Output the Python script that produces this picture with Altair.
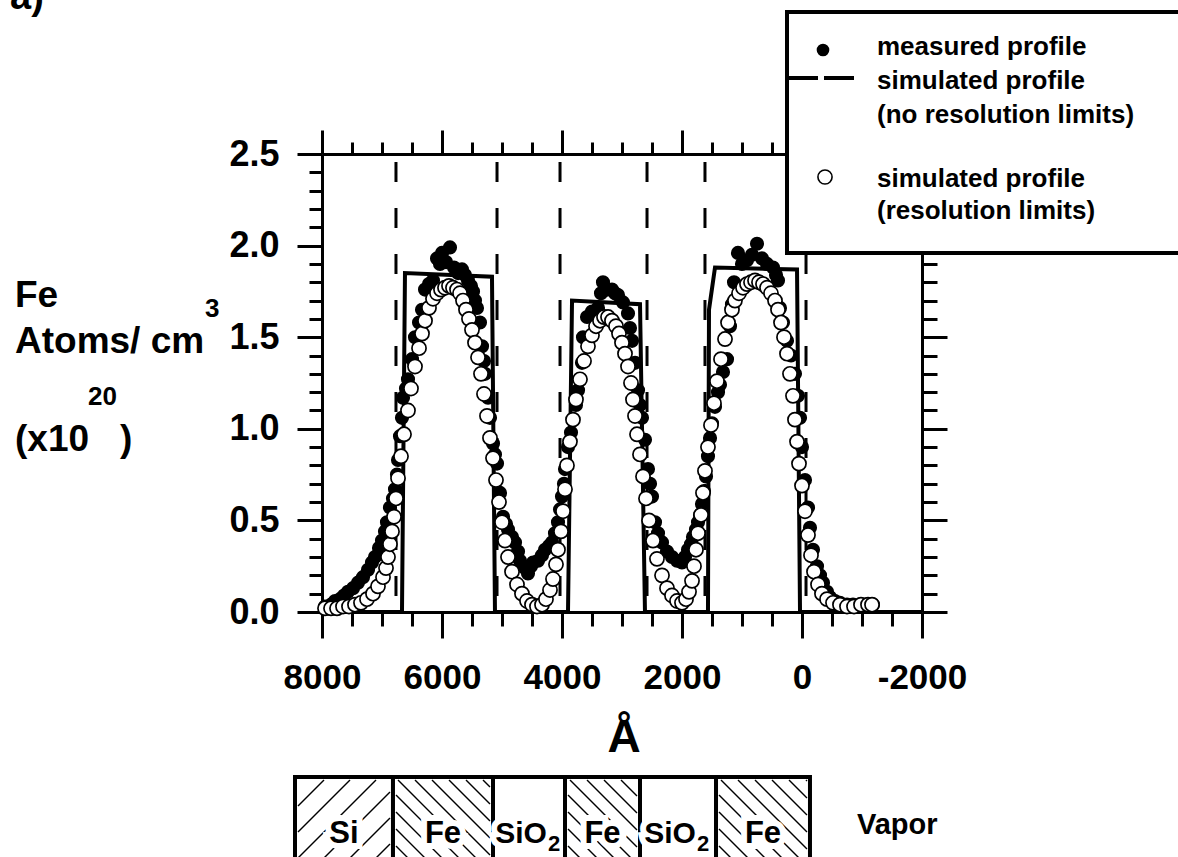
import altair as alt
import pandas as pd

FONT = "Liberation Sans, Arial, sans-serif"

# ---------------- data ----------------
meas_x = [7950, 7850, 7783, 7700, 7633, 7567, 7483, 7400, 7317, 7233, 7167, 7117, 7050, 7000, 6950,
          6917, 6867, 6817, 6783, 6750, 6733, 6700, 6667, 6650, 6600, 6567, 6500, 6450, 6383, 6333,
          6283, 6217, 6150, 6083, 6033, 6000, 5933, 5867, 5800, 5733, 5667, 5617, 5567, 5517, 5483,
          5450, 5417, 5367, 5333, 5300, 5283, 5233, 5200, 5150, 5117, 5083, 5033, 4983, 4933, 4900,
          4833, 4783, 4733, 4700, 4617, 4567, 4517, 4483, 4400, 4333, 4283, 4217, 4167, 4117, 4067,
          4033, 4000, 3967, 3950, 3900, 3850, 3817, 3767, 3733, 3667, 3650, 3583, 3500, 3400, 3350,
          3317, 3250, 3167, 3117, 3067, 2983, 2900, 2867, 2833, 2783, 2733, 2700, 2667, 2617, 2567,
          2533, 2500, 2450, 2400, 2333, 2250, 2167, 2083, 2000, 1950, 1900, 1850, 1817, 1767, 1733,
          1700, 1667, 1633, 1600, 1567, 1533, 1500, 1450, 1400, 1367, 1317, 1250, 1200, 1167, 1133,
          1067, 1000, 917, 833, 750, 667, 583, 483, 433, 400, 367, 317, 250, 183, 117,
          67, 33, 0, -50, -100, -133, -183, -250, -300, -350, -417, -467, -550, -633, -750,
          -850, -967, -1083, -1183]
meas_y = [0.03, 0.04, 0.06, 0.07, 0.09, 0.11, 0.13, 0.16, 0.19, 0.23, 0.27, 0.30, 0.35, 0.39, 0.44,
          0.49, 0.57, 0.62, 0.67, 0.75, 0.83, 0.96, 1.06, 1.17, 1.22, 1.27, 1.38, 1.50, 1.58, 1.65,
          1.76, 1.79, 1.81, 1.93, 1.90, 1.96, 1.91, 1.99, 1.88, 1.85, 1.87, 1.84, 1.81, 1.78, 1.75,
          1.70, 1.66, 1.58, 1.45, 1.37, 1.30, 1.17, 1.06, 0.92, 0.86, 0.81, 0.65, 0.52, 0.48, 0.45,
          0.41, 0.38, 0.33, 0.28, 0.24, 0.21, 0.25, 0.27, 0.28, 0.31, 0.34, 0.36, 0.38, 0.43, 0.49,
          0.56, 0.63, 0.70, 0.78, 0.90, 0.98, 1.05, 1.13, 1.21, 1.36, 1.50, 1.61, 1.64, 1.66, 1.74,
          1.80, 1.76, 1.76, 1.74, 1.73, 1.69, 1.63, 1.55, 1.48, 1.36, 1.21, 1.13, 1.06, 0.94, 0.78,
          0.70, 0.63, 0.49, 0.43, 0.38, 0.33, 0.30, 0.28, 0.27, 0.30, 0.34, 0.37, 0.41, 0.45, 0.49,
          0.53, 0.59, 0.66, 0.74, 0.85, 0.95, 1.03, 1.12, 1.20, 1.24, 1.31, 1.38, 1.56, 1.68, 1.80,
          1.96, 1.90, 1.92, 1.95, 2.01, 1.93, 1.90, 1.88, 1.84, 1.81, 1.66, 1.58, 1.48, 1.40, 1.30,
          1.18, 1.06, 0.90, 0.72, 0.57, 0.46, 0.34, 0.25, 0.20, 0.16, 0.11, 0.08, 0.06, 0.05, 0.04,
          0.04, 0.04, 0.04, 0.04]

sim_x = [7950, 7850, 7750, 7650, 7550, 7450, 7350, 7250, 7150, 7067, 6983, 6933, 6900, 6867, 6833,
         6800, 6767, 6733, 6683, 6633, 6567, 6517, 6450, 6383, 6333, 6283, 6217, 6150, 6083, 6017,
         5950, 5883, 5817, 5750, 5700, 5650, 5600, 5550, 5500, 5450, 5400, 5350, 5300, 5250, 5200,
         5150, 5100, 5050, 5000, 4950, 4900, 4833, 4750, 4667, 4583, 4500, 4417, 4333, 4267, 4200,
         4150, 4100, 4067, 4017, 3983, 3950, 3917, 3867, 3817, 3767, 3700, 3633, 3567, 3500, 3433,
         3367, 3300, 3233, 3167, 3100, 3050, 3000, 2950, 2900, 2850, 2817, 2783, 2750, 2700, 2650,
         2600, 2550, 2483, 2417, 2333, 2250, 2167, 2083, 2000, 1933, 1883, 1833, 1800, 1767, 1733,
         1683, 1650, 1617, 1567, 1517, 1467, 1417, 1350, 1283, 1233, 1167, 1117, 1050, 983, 917,
         850, 783, 717, 650, 583, 517, 450, 400, 350, 300, 250, 200, 150, 117, 83,
         50, 0, -50, -100, -150, -200, -267, -333, -417, -517, -633, -750, -867, -983, -1100,
         -1167]
sim_y = [0.02, 0.02, 0.02, 0.03, 0.03, 0.04, 0.05, 0.07, 0.10, 0.14, 0.19, 0.24, 0.30, 0.37, 0.44,
         0.52, 0.62, 0.73, 0.85, 0.97, 1.10, 1.22, 1.34, 1.44, 1.52, 1.59, 1.66, 1.71, 1.74, 1.76,
         1.77, 1.78, 1.77, 1.76, 1.74, 1.70, 1.65, 1.60, 1.54, 1.47, 1.39, 1.30, 1.19, 1.07, 0.95,
         0.84, 0.72, 0.60, 0.49, 0.39, 0.30, 0.22, 0.15, 0.10, 0.06, 0.04, 0.03, 0.04, 0.07, 0.12,
         0.18, 0.26, 0.34, 0.44, 0.55, 0.67, 0.80, 0.93, 1.05, 1.16, 1.27, 1.37, 1.45, 1.51, 1.56,
         1.59, 1.61, 1.61, 1.59, 1.56, 1.52, 1.47, 1.41, 1.34, 1.25, 1.16, 1.07, 0.97, 0.86, 0.74,
         0.62, 0.50, 0.39, 0.29, 0.20, 0.13, 0.09, 0.06, 0.05, 0.07, 0.11, 0.17, 0.25, 0.34, 0.43,
         0.53, 0.65, 0.77, 0.90, 1.02, 1.14, 1.26, 1.38, 1.49, 1.58, 1.65, 1.70, 1.74, 1.77, 1.79,
         1.80, 1.81, 1.80, 1.79, 1.77, 1.74, 1.70, 1.65, 1.58, 1.50, 1.41, 1.30, 1.18, 1.05, 0.93,
         0.81, 0.69, 0.55, 0.42, 0.31, 0.22, 0.15, 0.10, 0.07, 0.05, 0.04, 0.03, 0.03, 0.04, 0.04,
         0.04]

# simulated profile without resolution limits (step function)
step_x = [8000, 6667, 6617, 5167, 5117, 3900, 3833, 2700, 2617, 1567, 1550, 1450, 83, 33, -2000]
step_y = [0.0, 0.0, 1.85, 1.83, 0.0, 0.0, 1.70, 1.68, 0.0, 0.0, 1.65, 1.88, 1.87, 0.0, 0.0]

# layer interfaces (dashed verticals)
interfaces = [6767, 5083, 4033, 2583, 1617, -67]

# axis ticks
X_TICKS = list(range(8000, -2001, -500))
Y_TICKS = [round(0.1 * i, 1) for i in range(26)]

# layer-structure diagram
layer_left = [8450, 6817, 5150, 3950, 2700, 1433]
layer_right = [6817, 5150, 3950, 2700, 1433, -133]
layer_name = ["Si", "Fe", "SiO", "Fe", "SiO", "Fe"]
layer_sub = ["", "", "2", "", "2", ""]
layer_hatch = ["/", "\\", "", "\\", "", "\\"]
layer_spacing = [26, 17, 0, 17, 0, 17]

legend_labels = ["measured profile", "simulated profile", " (no resolution limits)",
                 "simulated profile", "(resolution limits)"]

# ---------------- geometry ----------------
W, H = 600, 458
X_MIN, X_MAX = -2000, 8000
Y_MAX = 2.5
OX, OY = 322, 154  # page position of plot origin
VPP = (X_MAX - X_MIN) / W     # Angstrom per pixel
PPY = H / Y_MAX               # pixels per y unit


def rx(px):
    return px - OX


def ry(py):
    return py - OY


xs = alt.Scale(domain=[X_MIN, X_MAX], reverse=True, nice=False, zero=False)
ys = alt.Scale(domain=[0, Y_MAX], nice=False, zero=False)

MAJ_X = "datum.value % 2000 === 0"
MAJ_Y = "round(datum.value * 10) % 5 === 0"

bottom_axis = alt.Axis(
    orient="bottom", values=X_TICKS, title=None, grid=False, zindex=0,
    domainColor="black", domainWidth=3, tickColor="black", tickWidth=3,
    tickSize={"condition": {"test": MAJ_X, "value": 26}, "value": 14},
    labelExpr=MAJ_X + " ? '' + datum.value : ''",
    labelFont=FONT, labelFontSize=35, labelFontWeight="bold", labelColor="black",
    labelBaseline="top", labelPadding=22, labelOverlap=False, labelFlush=False)
top_axis = alt.Axis(
    orient="top", values=X_TICKS, title=None, grid=False, zindex=0, labels=False,
    domainColor="black", domainWidth=3, tickColor="black", tickWidth=3,
    tickSize={"condition": {"test": MAJ_X, "value": 24}, "value": 12})
left_axis = alt.Axis(
    orient="left", values=Y_TICKS, title=None, grid=False, zindex=0,
    domainColor="black", domainWidth=3, tickColor="black", tickWidth=3,
    tickSize={"condition": {"test": MAJ_Y, "value": 25}, "value": 13},
    labelExpr=MAJ_Y + " ? format(datum.value, '.1f') : ''",
    labelFont=FONT, labelFontSize=36, labelFontWeight="bold", labelColor="black",
    labelPadding=18, labelOverlap=False, labelFlush=False)
right_axis = alt.Axis(
    orient="right", values=Y_TICKS, title=None, grid=False, zindex=0, labels=False,
    domainColor="black", domainWidth=3, tickColor="black", tickWidth=3,
    tickSize={"condition": {"test": MAJ_Y, "value": 25}, "value": 15})

# ---------------- data layers ----------------
dash_df = pd.DataFrame({"x": interfaces, "top": [Y_MAX] * len(interfaces),
                        "bot": [0.0] * len(interfaces)})
dashes = alt.Chart(dash_df).mark_rule(
    color="black", strokeWidth=3, strokeDash=[20, 26], strokeDashOffset=-8
).encode(x=alt.X("x:Q", scale=xs, axis=top_axis),
         y=alt.Y("top:Q", scale=ys, axis=right_axis),
         y2="bot:Q")

step_df = pd.DataFrame({"x": step_x, "y": step_y, "i": list(range(len(step_x)))})
step = alt.Chart(step_df).mark_line(color="black", strokeWidth=4, strokeJoin="miter").encode(
    x=alt.X("x:Q", scale=xs, axis=bottom_axis),
    y=alt.Y("y:Q", scale=ys, axis=left_axis),
    order="i:Q")

meas_df = pd.DataFrame({"x": meas_x, "y": meas_y})
meas = alt.Chart(meas_df).mark_circle(color="black", size=200, opacity=1).encode(
    x=alt.X("x:Q", scale=xs, axis=None), y=alt.Y("y:Q", scale=ys, axis=None))

sim_df = pd.DataFrame({"x": sim_x, "y": sim_y})
sim = alt.Chart(sim_df).mark_circle(fill="white", stroke="black", strokeWidth=1.7,
                                    size=200, opacity=1, fillOpacity=1).encode(
    x=alt.X("x:Q", scale=xs, axis=None), y=alt.Y("y:Q", scale=ys, axis=None))

# ---------------- layer diagram ----------------
BOX_TOP = 777
BOX_BOT = 905
cells = pd.DataFrame({"left": layer_left, "right": layer_right, "name": layer_name,
                      "sub": layer_sub})
cells["mid"] = (cells["left"] + cells["right"]) / 2

cell_rects = alt.Chart(cells).mark_rect(fill="white", stroke="black", strokeWidth=4).encode(
    x=alt.X("left:Q", scale=xs, axis=None), x2="right:Q",
    y=alt.value(ry(BOX_TOP)), y2=alt.value(ry(BOX_BOT)))

# hatch segments (45 degrees in page space), clipped to each cell
hatch = []
T = ry(BOX_TOP) + 3
HH = 100
for lft, rgt, kind, sp in zip(layer_left, layer_right, layer_hatch, layer_spacing):
    if not kind:
        continue
    a = (X_MAX - lft) / VPP + 3
    wc = (lft - rgt) / VPP - 6
    u0 = -HH if kind == "\\" else 0
    u_end = wc if kind == "\\" else wc + HH
    while u0 < u_end:
        if kind == "\\":
            t1, t2 = max(0, -u0), min(HH, wc - u0)
            p1, p2 = a + u0 + t1, a + u0 + t2
        else:
            t1, t2 = max(0, u0 - wc), min(HH, u0)
            p1, p2 = a + u0 - t1, a + u0 - t2
        if t2 > t1:
            hatch.append({"x1": X_MAX - p1 * VPP, "y1": (H - (T + t1)) / PPY,
                          "x2": X_MAX - p2 * VPP, "y2": (H - (T + t2)) / PPY})
        u0 += sp
hatch_df = pd.DataFrame(hatch)
hatch_layer = alt.Chart(hatch_df).mark_rule(color="black", strokeWidth=1.4).encode(
    x=alt.X("x1:Q", scale=xs, axis=None), x2="x2:Q",
    y=alt.Y("y1:Q", scale=ys, axis=None), y2="y2:Q")

LBL_Y = ry(834)
SUB_Y = ry(844)
plain = cells[cells["sub"] == ""]
oxide = cells[cells["sub"] != ""]


def cell_text(df, field, size, dx, align, ypos, halo, halo_w=12):
    kw = dict(font=FONT, fontSize=size, fontWeight="bold", align=align, dx=dx)
    if halo:
        kw.update(color="white", stroke="white", strokeWidth=halo_w)
    else:
        kw.update(color="black")
    return alt.Chart(df).mark_text(**kw).encode(
        x=alt.X("mid:Q", scale=xs, axis=None), y=alt.value(ypos), text=f"{field}:N")


diagram_text = []
for halo in (True, False):
    diagram_text += [
        cell_text(plain, "name", 31, 0, "center", LBL_Y, halo),
        cell_text(oxide, "name", 30, -8, "center", LBL_Y, halo),
        cell_text(oxide, "sub", 22, 19, "left", SUB_Y, halo, 6),
    ]

# ---------------- free text and legend ----------------
ONE = pd.DataFrame({"k": [0]})


def label(text, px, py, size, weight="bold", align="left"):
    return alt.Chart(ONE).mark_text(text=text, font=FONT, fontSize=size, fontWeight=weight,
                                    align=align, baseline="alphabetic", color="black").encode(
        x=alt.value(rx(px)), y=alt.value(ry(py)))


texts = [
    label("a)", 10, 9, 38),
    label("Fe", 15, 307, 37),
    label("Atoms/ cm", 15, 353, 37),
    label("3", 205, 317, 26),
    label("20", 88, 405, 26),
    label("(x10", 15, 451, 37),
    label(")", 120, 451, 37),
    label("Å", 624, 752, 46, align="center"),
    label("Vapor", 857, 834, 29),
]

LEG_L, LEG_T, LEG_B = 787, 12, 253
legend_box = alt.Chart(ONE).mark_rect(fill="white", stroke="black", strokeWidth=4).encode(
    x=alt.value(rx(LEG_L)), x2=alt.value(rx(1210)),
    y=alt.value(ry(LEG_T)), y2=alt.value(ry(LEG_B)))
leg_dot = alt.Chart(ONE).mark_circle(color="black", size=160, opacity=1).encode(
    x=alt.value(rx(823)), y=alt.value(ry(50)))
leg_dash = alt.Chart(ONE).mark_rule(color="black", strokeWidth=4, strokeDash=[30, 6]).encode(
    x=alt.value(rx(788)), x2=alt.value(rx(857)), y=alt.value(ry(78)))
leg_circ = alt.Chart(ONE).mark_circle(fill="white", stroke="black", strokeWidth=1.6,
                                      size=200, opacity=1).encode(
    x=alt.value(rx(825)), y=alt.value(ry(177)))
leg_rows = [55, 89, 123, 187, 219]
leg_texts = [label(t, 877, yy, 26) for t, yy in zip(legend_labels, leg_rows)]

chart = alt.layer(
    dashes, step, meas, sim,
    cell_rects, hatch_layer, *diagram_text,
    *texts,
    legend_box, leg_dot, leg_dash, leg_circ, *leg_texts,
).resolve_axis(x="independent", y="independent").properties(
    width=W, height=H,
    padding={"left": OX, "top": OY, "right": 1178 - OX - W, "bottom": 857 - OY - H},
    autosize=alt.AutoSizeParams(type="none"),
    background="white",
).configure_view(stroke=None)

chart.save("out.html", embed_options={"renderer": "svg", "actions": False})
